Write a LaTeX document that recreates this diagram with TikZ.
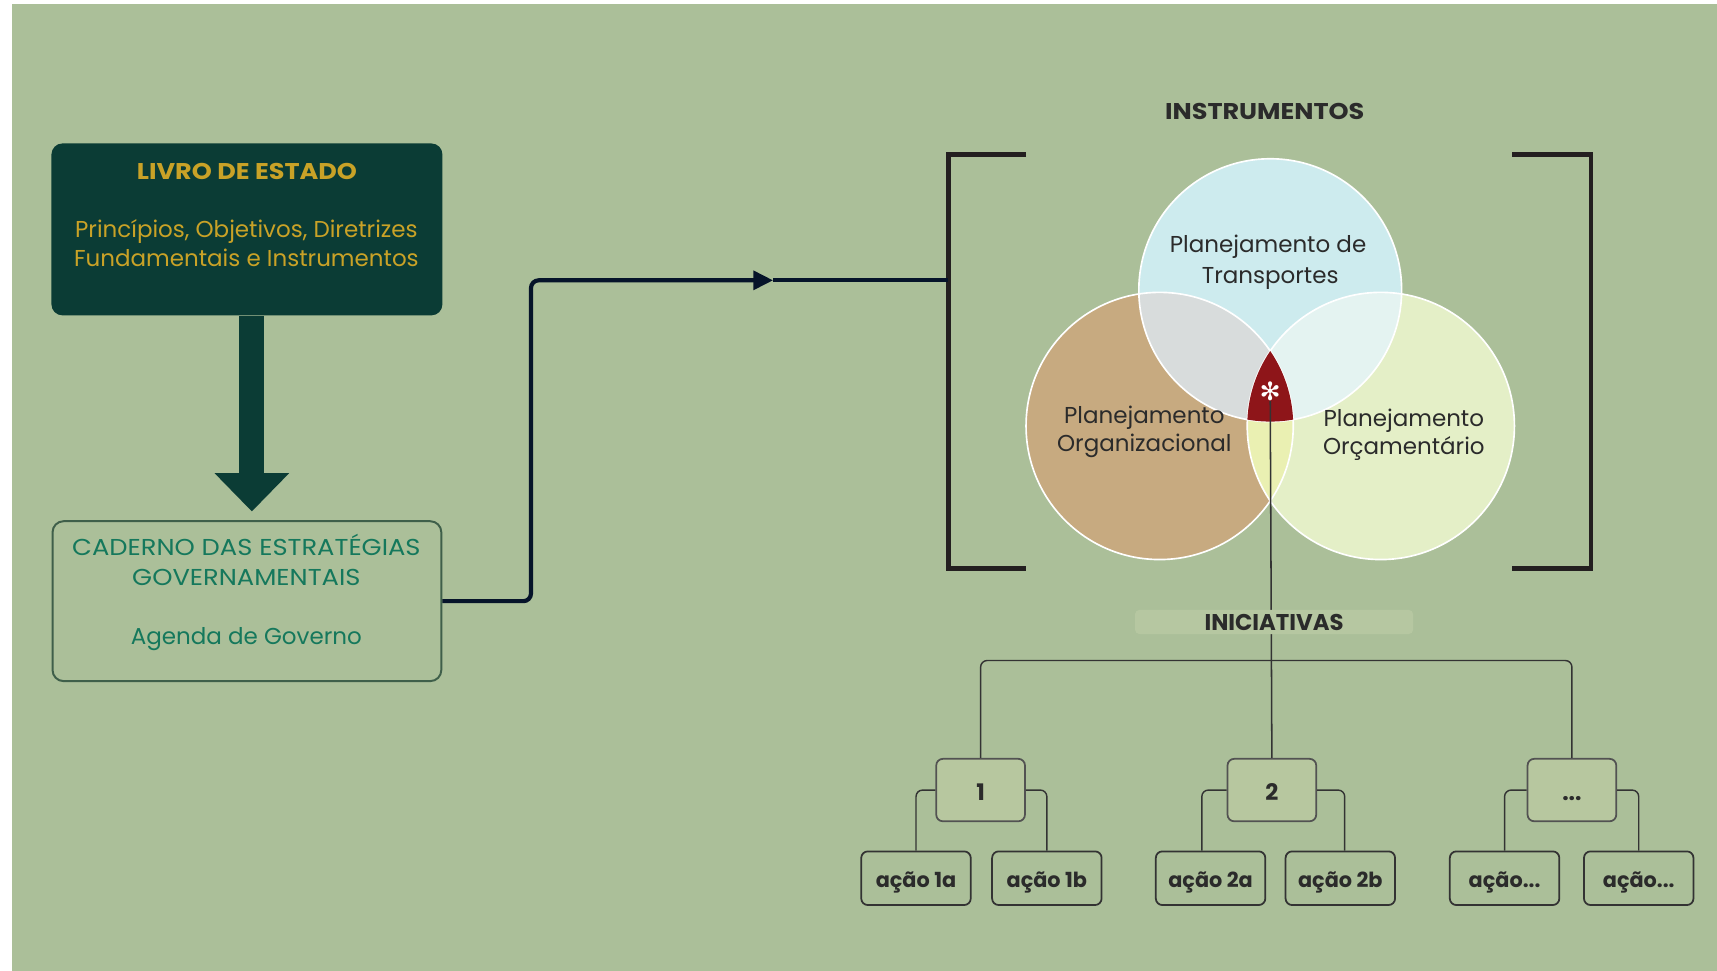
\documentclass[tikz,border=0pt]{standalone}
\usepackage{fontspec}
\setmainfont{Poppins}
\newfontfamily\capsfont{Poppins}[FakeStretch=1.12]
\newfontfamily\symfont{DejaVu Sans}
\usetikzlibrary{arrows.meta}
\definecolor{bg}{HTML}{ABBF99}
\definecolor{dkgreen}{HTML}{0B3C35}
\definecolor{gold}{HTML}{C9A227}
\definecolor{tealtxt}{HTML}{15785C}
\definecolor{cadborder}{HTML}{3F5F4A}
\definecolor{navy}{HTML}{06142A}
\definecolor{brk}{HTML}{231F20}
\definecolor{cT}{HTML}{CDEBEE}
\definecolor{cL}{HTML}{C7AA80}
\definecolor{cR}{HTML}{E4EFC7}
\definecolor{cTL}{HTML}{D8DCDC}
\definecolor{cTR}{HTML}{E4F3F1}
\definecolor{cLR}{HTML}{EAF0B2}
\definecolor{cred}{HTML}{8E1519}
\definecolor{labtxt}{HTML}{2B2B2B}
\definecolor{lvlone}{HTML}{B7C79F}
\definecolor{inifill}{HTML}{B6C7A1}
\definecolor{treeln}{HTML}{333333}
\tikzset{
  txt/.style={inner sep=0pt, anchor=base, font=\fontsize{10.5}{12}\selectfont},
  captxt/.style={inner sep=0pt, anchor=base, font=\capsfont\fontsize{10.5}{12}\selectfont},
  btxt/.style={inner sep=0pt, anchor=base, font=\capsfont\fontsize{10.4}{12}\selectfont\bfseries},
  livrobox/.style={rectangle, rounded corners=5pt, fill=dkgreen, minimum width=178.5pt, minimum height=78.5pt, inner sep=0pt},
  cadbox/.style={rectangle, rounded corners=5pt, draw=cadborder, line width=0.9pt, minimum width=177.5pt, minimum height=73pt, inner sep=0pt},
  bigarrow/.style={draw=dkgreen, line width=11.5pt, -{Triangle[length=17.5pt,width=33pt]}, shorten >=4pt},
  conn/.style={draw=navy, line width=1.9pt},
  bracket/.style={draw=brk, line width=2.1pt},
  circline/.style={draw=white, line width=0.75pt},
  vennlab/.style={txt, text=labtxt},
  lvlbox/.style={rectangle, rounded corners=3pt, fill=lvlone, draw=treeln!85, line width=0.8pt, minimum width=40.5pt, minimum height=28.5pt, inner sep=0pt, text height=9.5pt, text depth=0pt, font=\fontsize{10.4}{12}\selectfont\bfseries, text=labtxt},
  actbox/.style={rectangle, rounded corners=3pt, draw=treeln, line width=0.8pt, minimum width=50pt, minimum height=24.5pt, inner sep=0pt, text height=8.8pt, text depth=0.2pt, font=\fontsize{9.5}{12}\selectfont\bfseries, text=labtxt},
  tree/.style={draw=treeln, line width=0.65pt, rounded corners=3pt},
  inibox/.style={rectangle, rounded corners=2pt, fill=inifill, minimum width=127pt, minimum height=11pt, inner sep=0pt, font=\fontsize{10.4}{12}\selectfont\bfseries, text=labtxt}
}
\begin{document}
\begin{tikzpicture}[x=0.5pt,y=-0.5pt]
\useasboundingbox (0,0) rectangle (1568,886.7);
\fill[white] (0,0) rectangle (1568,886.7);
\fill[bg] (11,3.7) rectangle (1568,886.7);

% left column
\node[livrobox] (livro) at (225.5,209.5) {};
\node[btxt, text=gold] (livroT) at (225.5,163.5) {LIVRO DE ESTADO};
\node[txt, text=gold] (livro1) at (225,216.5) {Princípios, Objetivos, Diretrizes};
\node[txt, text=gold] (livro2) at (225,243.5) {Fundamentais e Instrumentos};

\node[cadbox] (cad) at (225.5,549) {};
\node[captxt, text=tealtxt] (cad1) at (225,507.5) {CADERNO DAS ESTRATÉGIAS};
\node[captxt, text=tealtxt] (cad2) at (225,534.5) {GOVERNAMENTAIS};
\node[txt, text=tealtxt] (cad3) at (225,588.5) {Agenda de Governo};

\draw[bigarrow] ([xshift=2.25pt]livro.south) -- ([xshift=2.25pt]cad.north);

% brackets
\coordinate (brL) at (866,256);
\draw[bracket] (937,141) -- (866,141) -- (866,519) -- (937,519);
\draw[bracket] (1381,141) -- (1453,141) -- (1453,519) -- (1381,519);

% connector
\coordinate (arr) at (706,256);
\draw[conn, rounded corners=3.5pt, -{Triangle[length=9pt,width=8.5pt]}] (cad.east) -- ++(81,0) |- (arr);
\draw[conn] (arr) -- (brL);

\node[btxt, text=labtxt] (instr) at (1155,108.7) {INSTRUMENTOS};

% Venn
\def\cirT{(1160,265) circle (60pt)}
\def\cirL{(1059,389) circle (61pt)}
\def\cirR{(1261,389) circle (61pt)}
\fill[cT] \cirT;
\fill[cL] \cirL;
\fill[cR] \cirR;
\begin{scope}\clip \cirT; \fill[cTL] \cirL; \end{scope}
\begin{scope}\clip \cirT; \fill[cTR] \cirR; \end{scope}
\begin{scope}\clip \cirL; \fill[cLR] \cirR; \end{scope}
\draw[circline] \cirT;
\draw[circline] \cirL;
\draw[circline] \cirR;
\begin{scope}\clip \cirT; \clip \cirL; \fill[cred] \cirR; \end{scope}

\node[vennlab] (vt1) at (1158,231) {Planejamento de};
\node[vennlab] (vt2) at (1160,258.7) {Transportes};
\node[vennlab] (vl1) at (1045,386.6) {Planejamento};
\node[vennlab] (vl2) at (1045,412.5) {Organizacional};
\node[vennlab] (vr1) at (1282,389.6) {Planejamento};
\node[vennlab] (vr2) at (1282,415.5) {Orçamentário};

% tree
\node[lvlbox] (b1) at (895.5,721.5) {1};
\node[lvlbox] (b2) at (1161.5,721.5) {2};
\node[lvlbox] (b3) at (1435.5,721.5) {...};
\node[actbox] (a1a) at (836.5,802) {ação 1a};
\node[actbox] (a1b) at (956,802) {ação 1b};
\node[actbox] (a2a) at (1105.5,802) {ação 2a};
\node[actbox] (a2b) at (1224,802) {ação 2b};
\node[actbox] (a3a) at (1374,802) {ação...};
\node[actbox] (a3b) at (1496.5,802) {ação...};

\node[inner sep=0pt, text=white, font=\symfont\fontsize{11.5}{11.5}\selectfont] (star) at (1160,357) {✻};
\draw[treeln, line width=0.7pt] (star.south) -- (b2.north);
\node[inibox] (ini) at (1163.5,568) {INICIATIVAS};

\draw[tree] (b1.north) -- ++(0,-89) -| (b3.north);
\draw[tree] (b1.west) -| (a1a.north);
\draw[tree] (b1.east) -| (a1b.north);
\draw[tree] (b2.west) -| ([xshift=-4pt]a2a.north);
\draw[tree] (b2.east) -| ([xshift=2pt]a2b.north);
\draw[tree] (b3.west) -| (a3a.north);
\draw[tree] (b3.east) -| (a3b.north);
\end{tikzpicture}
\end{document}
